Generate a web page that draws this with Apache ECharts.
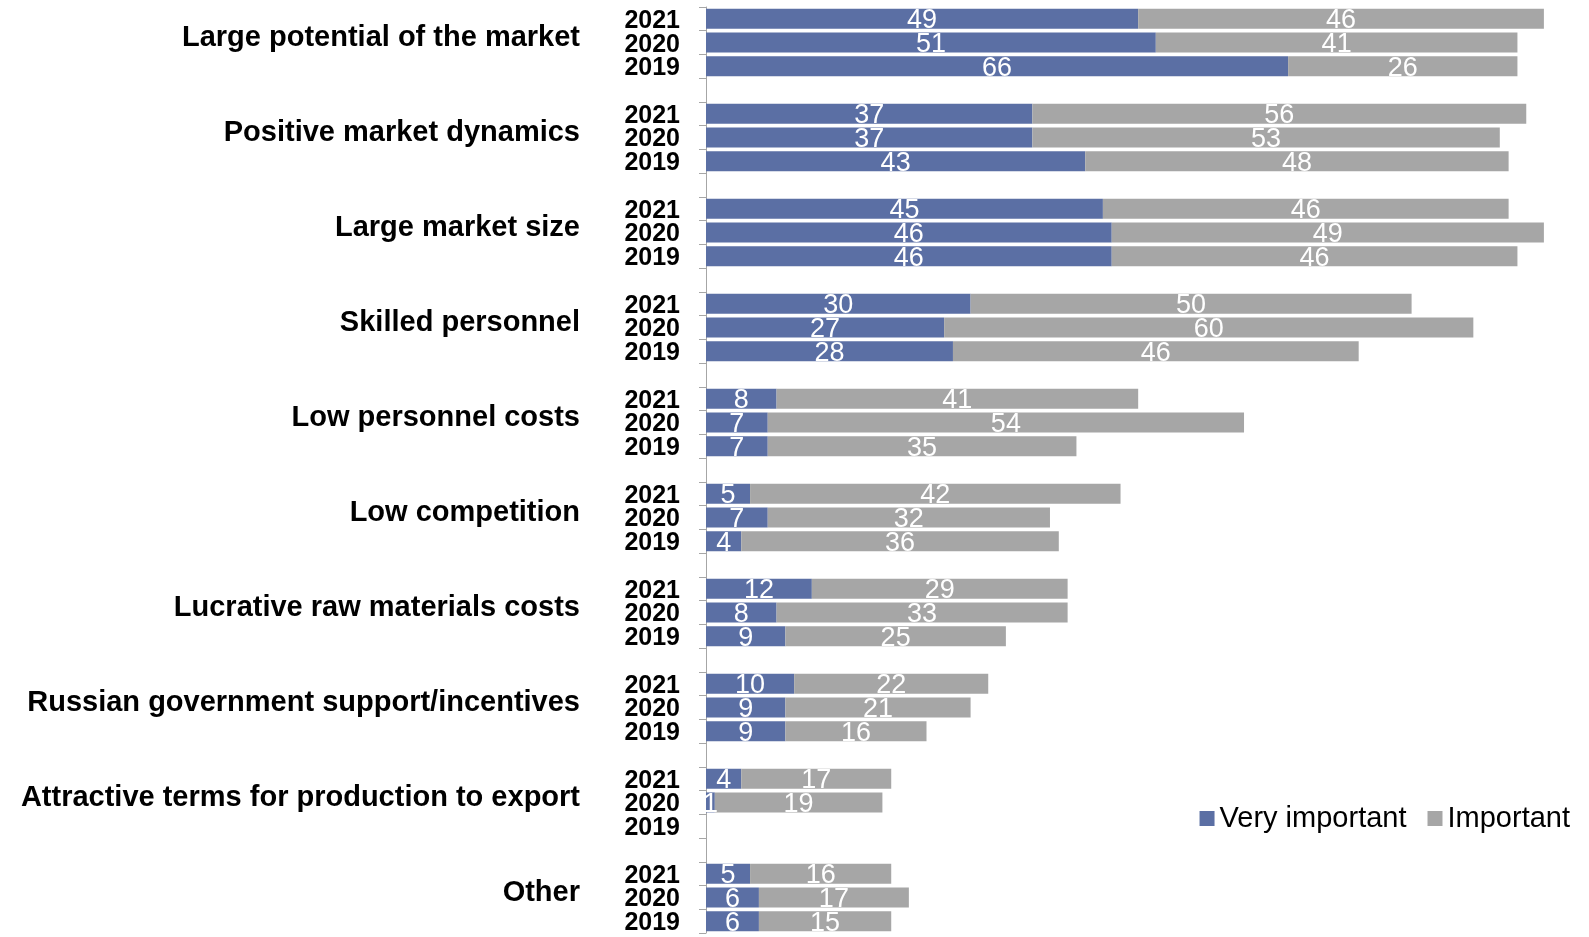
<!DOCTYPE html>
<html>
<head>
<meta charset="utf-8">
<script src="https://cdn.jsdelivr.net/npm/echarts@6/dist/echarts.min.js"></script>
<style>
  html, body { margin: 0; padding: 0; background: #fff; }
  #chart { width: 1589px; height: 937px; }
</style>
</head>
<body>
<div id="chart"></div>
<script>
// categories, top to bottom
let categories = [
  'Large potential of the market',
  'Positive market dynamics',
  'Large market size',
  'Skilled personnel',
  'Low personnel costs',
  'Low competition',
  'Lucrative raw materials costs',
  'Russian government support/incentives',
  'Attractive terms for production to export',
  'Other'
];
let years = ['2021', '2020', '2019'];

// values per category, in the order of years (2021, 2020, 2019)
let veryImportant = [
  [49, 51, 66],
  [37, 37, 43],
  [45, 46, 46],
  [30, 27, 28],
  [8, 7, 7],
  [5, 7, 4],
  [12, 8, 9],
  [10, 9, 9],
  [4, 1, null],
  [5, 6, 6]
];
let important = [
  [46, 41, 26],
  [56, 53, 48],
  [46, 49, 46],
  [50, 60, 46],
  [41, 54, 35],
  [42, 32, 36],
  [29, 33, 25],
  [22, 21, 16],
  [17, 19, null],
  [16, 17, 15]
];

// build rows: 3 year bars per category, then one empty row between groups
let rows = [];
let rowYear = [];
let rowCat = [];
let dataVery = [];
let dataImp = [];
for (let i = 0; i < categories.length; i++) {
  for (let j = 0; j < years.length; j++) {
    rows.push('r' + rows.length);
    rowYear.push(years[j]);
    rowCat.push(j === 1 ? categories[i] : '');
    dataVery.push(veryImportant[i][j] == null ? '-' : veryImportant[i][j]);
    dataImp.push(important[i][j] == null ? '-' : important[i][j]);
  }
  if (i < categories.length - 1) {
    rows.push('r' + rows.length);
    rowYear.push('');
    rowCat.push('');
    dataVery.push('-');
    dataImp.push('-');
  }
}

let font = '"Liberation Sans", Arial, sans-serif';
let myChart = echarts.init(document.getElementById('chart'));

let barLabel = {
  show: true,
  position: 'inside',
  offset: [0, 2],
  color: '#fff',
  fontSize: 27,
  fontFamily: font,
  formatter: function (p) { return p.value; }
};

myChart.setOption({
  animation: false,
  grid: { left: 706, right: 1, top: 7, bottom: 4 },
  legend: {
    right: 14,
    top: 799,
    icon: 'rect',
    itemWidth: 15,
    itemHeight: 15,
    itemGap: 21,
    textStyle: { fontSize: 29, fontFamily: font, color: '#000' },
    data: ['Very important', 'Important']
  },
  xAxis: {
    type: 'value',
    min: 0,
    max: 100,
    show: false
  },
  yAxis: [
    {
      type: 'category',
      inverse: true,
      data: rows,
      axisLine: { lineStyle: { color: '#a6a6a6', width: 1 } },
      axisTick: { show: true, interval: 0, length: 7, lineStyle: { color: '#a6a6a6' } },
      axisLabel: {
        interval: 0,
        margin: 26,
        fontSize: 25,
        fontWeight: 'bold',
        fontFamily: font,
        color: '#000',
        verticalAlign: 'top',
        lineHeight: 4,
        formatter: function (v, idx) { return rowYear[idx]; }
      }
    },
    {
      type: 'category',
      inverse: true,
      position: 'left',
      data: rows,
      axisLine: { show: false },
      axisTick: { show: false },
      axisLabel: {
        interval: 0,
        margin: 126,
        fontSize: 29,
        fontWeight: 'bold',
        fontFamily: font,
        color: '#000',
        verticalAlign: 'bottom',
        lineHeight: 9,
        formatter: function (v, idx) { return rowCat[idx]; }
      }
    }
  ],
  series: [
    {
      name: 'Very important',
      type: 'bar',
      stack: 'total',
      barWidth: 20,
      itemStyle: { color: '#5b6fa4' },
      label: barLabel,
      data: dataVery
    },
    {
      name: 'Important',
      type: 'bar',
      stack: 'total',
      barWidth: 20,
      itemStyle: { color: '#a6a6a6' },
      label: barLabel,
      data: dataImp
    }
  ]
});
</script>
</body>
</html>
